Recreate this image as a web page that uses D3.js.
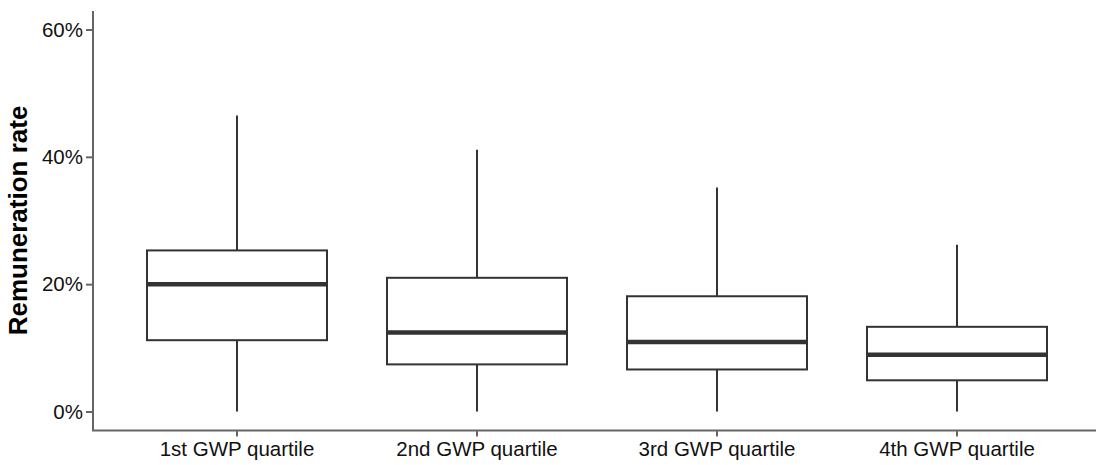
<!DOCTYPE html>
<html>
<head>
<meta charset="utf-8">
<script src="https://cdn.jsdelivr.net/npm/d3@7"></script>
<style>
  html, body { margin: 0; padding: 0; background: #fff; }
  svg { display: block; font-family: "Liberation Sans", Arial, sans-serif; }
</style>
</head>
<body>
<svg id="chart" width="1096" height="465"></svg>
<script>
// Remuneration rate by GWP quartile: five-number summaries per group
const categories = ["1st GWP quartile", "2nd GWP quartile", "3rd GWP quartile", "4th GWP quartile"];
const whiskerLow  = [0.000, 0.000, 0.000, 0.000];
const q1          = [0.112, 0.074, 0.066, 0.049];
const median      = [0.200, 0.124, 0.109, 0.089];
const q3          = [0.253, 0.210, 0.181, 0.133];
const whiskerHigh = [0.465, 0.411, 0.352, 0.262];
const yTicks      = [0, 0.2, 0.4, 0.6];

const svg = d3.select("#chart");
const plotLeft = 93, plotRight = 1101, plotTop = 10.4, plotBottom = 430.6;

const x = d3.scaleBand()
  .domain(categories)
  .range([plotLeft, plotRight])
  .paddingInner(0.25)
  .paddingOuter(0.225);

const y = d3.scaleLinear()
  .domain([-0.03, 0.63])
  .range([plotBottom, plotTop]);

const boxes = categories.map((c, i) => ({
  cat: c, lo: whiskerLow[i], q1: q1[i], med: median[i], q3: q3[i], hi: whiskerHigh[i]
}));

const ink = "#333333";
const g = svg.append("g");

const box = g.selectAll("g.box").data(boxes).join("g").attr("class", "box");

// whiskers
box.append("line")
  .attr("x1", d => x(d.cat) + x.bandwidth() / 2)
  .attr("x2", d => x(d.cat) + x.bandwidth() / 2)
  .attr("y1", d => y(d.q3)).attr("y2", d => y(d.hi))
  .attr("stroke", ink).attr("stroke-width", 2);
box.append("line")
  .attr("x1", d => x(d.cat) + x.bandwidth() / 2)
  .attr("x2", d => x(d.cat) + x.bandwidth() / 2)
  .attr("y1", d => y(d.q1)).attr("y2", d => y(d.lo))
  .attr("stroke", ink).attr("stroke-width", 2);

// interquartile boxes
box.append("rect")
  .attr("x", d => x(d.cat))
  .attr("width", x.bandwidth())
  .attr("y", d => y(d.q3))
  .attr("height", d => y(d.q1) - y(d.q3))
  .attr("fill", "#fff")
  .attr("stroke", ink).attr("stroke-width", 2);

// medians
box.append("line")
  .attr("x1", d => x(d.cat)).attr("x2", d => x(d.cat) + x.bandwidth())
  .attr("y1", d => y(d.med)).attr("y2", d => y(d.med))
  .attr("stroke", ink).attr("stroke-width", 4.5);

// axes
const axisColor = "#666666";
const yAxis = svg.append("g")
  .attr("transform", `translate(${plotLeft},0)`)
  .call(d3.axisLeft(y).tickValues(yTicks).tickFormat(d3.format(".0%")).tickSize(7).tickPadding(3).tickSizeOuter(0));
yAxis.select(".domain").remove();
yAxis.append("line").attr("x1", 0).attr("x2", 0).attr("y1", 11).attr("y2", plotBottom)
  .attr("stroke", axisColor).attr("stroke-width", 2);

const xAxis = svg.append("g")
  .attr("transform", `translate(0,${plotBottom})`)
  .call(d3.axisBottom(x).tickSize(6).tickPadding(5).tickSizeOuter(0));
xAxis.select(".domain").remove();
xAxis.append("line").attr("x1", plotLeft - 1).attr("x2", 1096).attr("y1", 0).attr("y2", 0)
  .attr("stroke", axisColor).attr("stroke-width", 2);

[yAxis, xAxis].forEach(a => {
  a.selectAll(".tick line").attr("stroke", axisColor).attr("stroke-width", 2);
  a.selectAll(".tick text").attr("fill", "#111").attr("font-size", 20.5)
    .attr("font-family", "'Liberation Sans', Arial, sans-serif");
});

// y-axis title
svg.append("text")
  .attr("transform", `translate(27,${(plotTop + plotBottom) / 2}) rotate(-90)`)
  .attr("text-anchor", "middle")
  .attr("font-size", 26).attr("font-weight", "bold").attr("fill", "#000")
  .text("Remuneration rate");
</script>
</body>
</html>
